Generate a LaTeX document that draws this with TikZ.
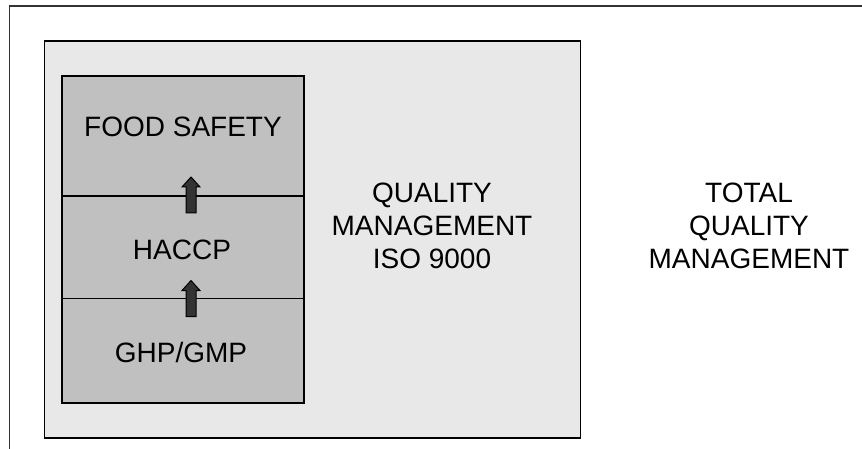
\documentclass[tikz,border=0pt]{standalone}
\usepackage{fontspec}
\setmainfont{Liberation Sans}
\definecolor{outerbg}{HTML}{E8E8E8}
\definecolor{stagebg}{HTML}{C0C0C0}
\definecolor{framecol}{HTML}{333333}
\definecolor{arrowcol}{HTML}{333333}
\begin{document}
\begin{tikzpicture}[x=1pt,y=-1pt,
  frame/.style={draw=framecol,line width=1.6pt},
  qbox/.style={draw=black,fill=outerbg,line width=1.8pt,inner sep=0pt,anchor=north west},
  stagebox/.style={draw=black,fill=stagebg,line width=1.6pt,inner sep=0pt,anchor=north west,minimum width=242pt},
  lbl/.style={font=\fontsize{28pt}{33pt}\selectfont,inner sep=0pt,anchor=base},
  mlbl/.style={font=\fontsize{28pt}{33pt}\selectfont,inner sep=0pt,align=center,anchor=center},
  uparr/.pic={\draw[fill=arrowcol,draw=black,line width=1pt,line join=miter]
      (-5,0) -- (-5,-26) -- (-9,-26) -- (0,-36) -- (9,-26) -- (5,-26) -- (5,0) -- cycle;}
]
\useasboundingbox (0,0) rectangle (862,449);
% outer frame (top and left edges only visible)
\coordinate (fbl) at (9.5,449);
\coordinate (ftl) at (9.5,6);
\coordinate (ftr) at (862,6);
\draw[frame] (fbl) -- (ftl) -- (ftr);
% quality management box
\node[qbox,minimum width=536pt,minimum height=397pt] (qm) at (43.5,40) {};
% stages
\node[stagebox,minimum height=120pt] (food) at (61,75) {};
\node[stagebox,minimum height=102.5pt] (haccp) at (61,195) {};
\node[stagebox,minimum height=104.5pt] (ghp) at (61,297.5) {};
% stage labels
\node[lbl] (tfood) at (183,137) {FOOD SAFETY};
\node[lbl] (thaccp) at (182,259) {HACCP};
\node[lbl] (tghp) at (181,362) {GHP/GMP};
% arrows
\pic (a1) at (191,213) {uparr};
\pic (a2) at (191,316.5) {uparr};
% right texts
\node[mlbl] (tqm) at (432,226) {QUALITY\\MANAGEMENT\\ISO 9000};
\node[mlbl] (ttqm) at (749,226) {TOTAL\\QUALITY\\MANAGEMENT};
\end{tikzpicture}
\end{document}
